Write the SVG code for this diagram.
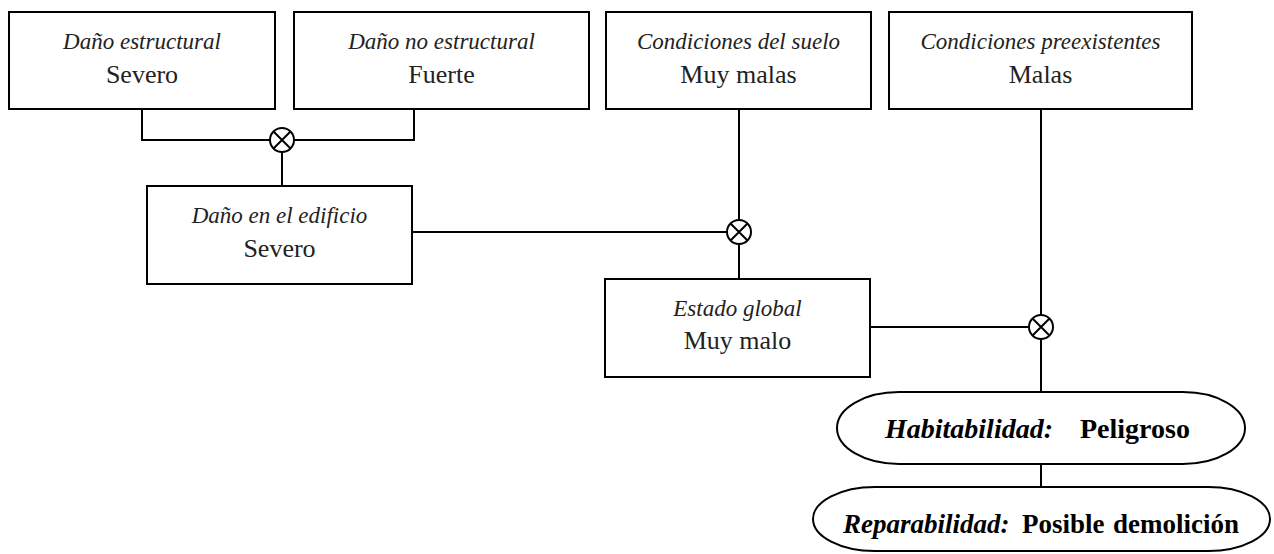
<svg xmlns="http://www.w3.org/2000/svg" width="1274" height="554" viewBox="0 0 1274 554">
<defs>
<style>
.box{fill:#fff;stroke:#000;stroke-width:2}
.ln{fill:none;stroke:#000;stroke-width:2}
.t1{font-family:"Liberation Serif",serif;font-style:italic;font-size:23px;fill:#222;text-anchor:middle}
.t2{font-family:"Liberation Serif",serif;font-size:26px;fill:#222;text-anchor:middle}
.bi{font-family:"Liberation Serif",serif;font-style:italic;font-weight:bold;font-size:28px;fill:#000}
.b{font-family:"Liberation Serif",serif;font-weight:bold;font-size:28px;fill:#000}
.bi2{font-family:"Liberation Serif",serif;font-style:italic;font-weight:bold;font-size:27px;fill:#000}
.b2{font-family:"Liberation Serif",serif;font-weight:bold;font-size:27px;fill:#000}
</style>
<g id="otimes">
<circle cx="0" cy="0" r="12" fill="#fff" stroke="#000" stroke-width="2"/>
<path d="M-8.5,-8.5 L8.5,8.5 M-8.5,8.5 L8.5,-8.5" stroke="#000" stroke-width="2"/>
</g>
</defs>
<rect width="1274" height="554" fill="#fff"/>
<g id="connectors">
<polyline class="ln" points="142,109 142,140 270,140"/>
<polyline class="ln" points="294,140 414,140 414,109"/>
<line class="ln" x1="282" y1="152" x2="282" y2="186"/>
<line class="ln" x1="739" y1="109" x2="739" y2="220"/>
<line class="ln" x1="412" y1="232" x2="727" y2="232"/>
<line class="ln" x1="739" y1="244" x2="739" y2="279"/>
<line class="ln" x1="1041" y1="109" x2="1041" y2="315"/>
<line class="ln" x1="870" y1="327" x2="1029" y2="327"/>
<line class="ln" x1="1041" y1="339" x2="1041" y2="392"/>
<line class="ln" x1="1041" y1="464" x2="1041" y2="487"/>
<use href="#otimes" x="282" y="140"/>
<use href="#otimes" x="739" y="232"/>
<use href="#otimes" x="1041" y="327"/>
</g>
<g id="n1">
<rect class="box" x="9" y="12" width="266" height="97"/>
<text class="t1" x="142" y="49">Daño estructural</text>
<text class="t2" x="142" y="83">Severo</text>
</g>
<g id="n2">
<rect class="box" x="294" y="12" width="295" height="97"/>
<text class="t1" x="441.5" y="49">Daño no estructural</text>
<text class="t2" x="441.5" y="83">Fuerte</text>
</g>
<g id="n3">
<rect class="box" x="606" y="12" width="265" height="97"/>
<text class="t1" x="738.5" y="49">Condiciones del suelo</text>
<text class="t2" x="738.5" y="83">Muy malas</text>
</g>
<g id="n4">
<rect class="box" x="889" y="12" width="303" height="97"/>
<text class="t1" x="1040.5" y="49">Condiciones preexistentes</text>
<text class="t2" x="1040.5" y="83">Malas</text>
</g>
<g id="n5">
<rect class="box" x="147" y="186" width="265" height="98"/>
<text class="t1" x="279.5" y="223">Daño en el edificio</text>
<text class="t2" x="279.5" y="257">Severo</text>
</g>
<g id="n6">
<rect class="box" x="605" y="279" width="265" height="98"/>
<text class="t1" x="737.5" y="316">Estado global</text>
<text class="t2" x="737.5" y="349">Muy malo</text>
</g>
<g id="n7">
<rect class="box" x="837" y="392" width="408" height="72" rx="62" ry="36"/>
<text x="885" y="438"><tspan class="bi">Habitabilidad:</tspan><tspan class="b" x="1080">Peligroso</tspan></text>
</g>
<g id="n8">
<rect class="box" x="813" y="487" width="457" height="64" rx="62" ry="32"/>
<text x="843" y="533"><tspan class="bi2">Reparabilidad:</tspan><tspan class="b2" x="1022">Posible</tspan><tspan class="b2" x="1113">demolición</tspan></text>
</g>
</svg>
